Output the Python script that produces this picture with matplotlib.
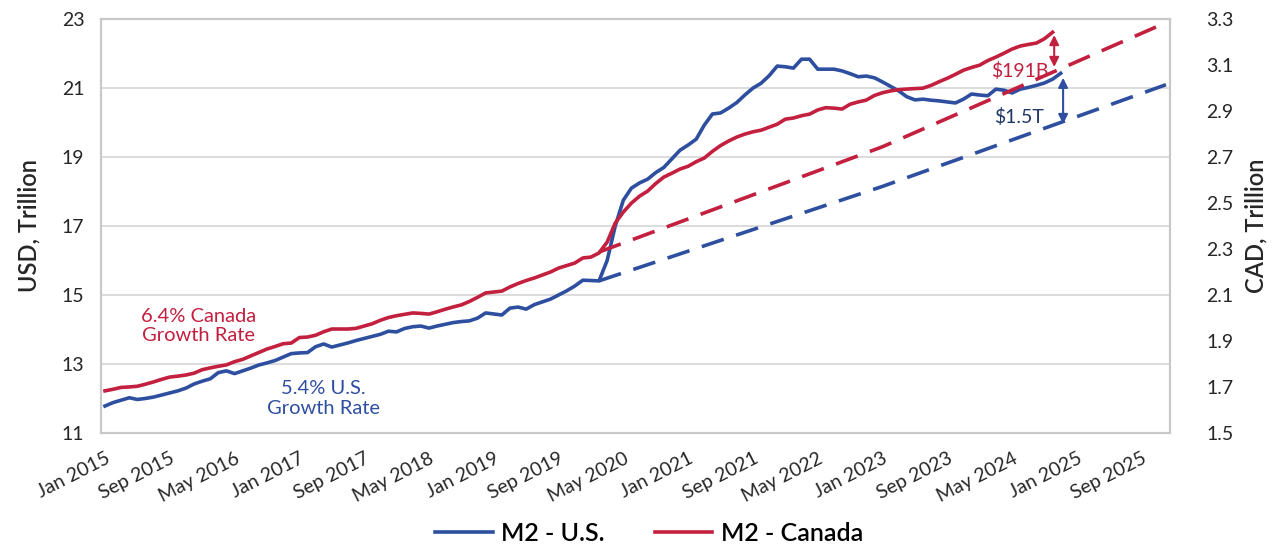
import numpy as np
import matplotlib
matplotlib.use('Agg')
import matplotlib.pyplot as plt
from matplotlib.ticker import FixedLocator, FormatStrFormatter

plt.rcParams['font.family'] = ['Lato', 'DejaVu Sans']

# monthly M2, Jan 2015 onwards
us_m2 = [
    11.78, 11.88, 11.95, 12.02, 11.97, 12.00, 12.04, 12.10, 12.16, 12.22, 12.30, 12.42,
    12.50, 12.57, 12.75, 12.80, 12.72, 12.80, 12.88, 12.97, 13.03, 13.10, 13.20, 13.30,
    13.32, 13.33, 13.50, 13.58, 13.49, 13.55, 13.61, 13.68, 13.74, 13.80, 13.86, 13.95,
    13.93, 14.03, 14.08, 14.10, 14.04, 14.10, 14.15, 14.20, 14.23, 14.25, 14.33, 14.48,
    14.45, 14.42, 14.62, 14.65, 14.59, 14.72, 14.80, 14.88, 15.00, 15.12, 15.26, 15.43,
    15.42, 15.41, 16.00, 17.00, 17.75, 18.10, 18.25, 18.36, 18.55, 18.70, 18.95, 19.20,
    19.35, 19.52, 19.93, 20.25, 20.28, 20.42, 20.58, 20.80, 21.00, 21.14, 21.36, 21.64,
    21.62, 21.58, 21.84, 21.84, 21.55, 21.55, 21.55, 21.50, 21.42, 21.33, 21.35, 21.30,
    21.18, 21.05, 20.92, 20.75, 20.66, 20.68, 20.65, 20.63, 20.60, 20.57, 20.68, 20.83,
    20.80, 20.78, 20.97, 20.94, 20.86, 20.97, 21.02, 21.08, 21.15, 21.26, 21.43,
]
ca_m2 = [
    1.683, 1.690, 1.698, 1.700, 1.703, 1.712, 1.722, 1.733, 1.743, 1.747, 1.752, 1.760,
    1.775, 1.783, 1.790, 1.796, 1.810, 1.820, 1.835, 1.850, 1.865, 1.876, 1.888, 1.891,
    1.915, 1.917, 1.925, 1.940, 1.952, 1.952, 1.952, 1.955, 1.965, 1.975, 1.990, 2.002,
    2.010, 2.016, 2.022, 2.020, 2.017, 2.027, 2.038, 2.048, 2.057, 2.072, 2.090, 2.109,
    2.113, 2.117, 2.135, 2.150, 2.163, 2.174, 2.187, 2.200, 2.217, 2.228, 2.239, 2.261,
    2.265, 2.283, 2.330, 2.413, 2.461, 2.500, 2.530, 2.552, 2.585, 2.613, 2.630, 2.648,
    2.660, 2.680, 2.696, 2.725, 2.750, 2.770, 2.787, 2.800, 2.810, 2.817, 2.830, 2.843,
    2.865, 2.870, 2.880, 2.887, 2.905, 2.915, 2.913, 2.909, 2.930, 2.940, 2.948, 2.968,
    2.980, 2.988, 2.993, 2.996, 2.998, 3.000, 3.012, 3.028, 3.043, 3.060, 3.078, 3.090,
    3.100, 3.120, 3.135, 3.152, 3.170, 3.183, 3.190, 3.196, 3.215, 3.243,
]

# trend lines (month index, value)
us_trend_month = [61, 96, 131]
us_trend = [15.41, 18.15, 21.10]
ca_trend_month = [61, 96, 131]
ca_trend = [2.287, 2.745, 3.285]

n_months = 132
tick_labels = ['Jan 2015', 'Sep 2015', 'May 2016', 'Jan 2017', 'Sep 2017', 'May 2018',
               'Jan 2019', 'Sep 2019', 'May 2020', 'Jan 2021', 'Sep 2021', 'May 2022',
               'Jan 2023', 'Sep 2023', 'May 2024', 'Jan 2025', 'Sep 2025']

blue = '#2E4FA0'
red = '#C31F3E'
navy = '#1F3864'
txt = '#262626'

fig = plt.figure(figsize=(12.73, 5.48), dpi=100)
ax1 = fig.add_axes([0.0793, 0.210, 0.8398, 0.755])
ax2 = ax1.twinx()

ax1.plot(np.arange(len(us_m2)), us_m2, color=blue, lw=2.6, label='M2 - U.S.', zorder=3)
ax1.plot(us_trend_month, us_trend, color=blue, lw=2.6, dashes=(6.4, 3.6), zorder=3)
ax2.plot(np.arange(len(ca_m2)), ca_m2, color=red, lw=2.6, label='M2 - Canada', zorder=3)
ax2.plot(ca_trend_month, ca_trend, color=red, lw=2.6, dashes=(6.4, 3.6), zorder=3)

ax1.set_xlim(-0.5, n_months - 0.5)
ax1.set_ylim(11, 23)
ax2.set_ylim(1.5, 3.3)
ax1.yaxis.set_major_locator(FixedLocator(np.arange(11, 24, 2)))
ax2.yaxis.set_major_locator(FixedLocator(np.arange(1.5, 3.31, 0.2)))
ax2.yaxis.set_major_formatter(FormatStrFormatter('%.1f'))

ax1.set_xticks(np.arange(0, n_months, 8))
ax1.set_xticklabels(tick_labels, rotation=27, ha='right', rotation_mode='anchor')

ax1.grid(axis='y', color='#D9D9D9', lw=1.3)
ax1.set_axisbelow(True)
for ax in (ax1, ax2):
    for s in ax.spines.values():
        s.set_color('#C8C8C8')
        s.set_linewidth(1.5)
ax1.tick_params(axis='y', length=0, labelsize=14, colors=txt, pad=12)
ax1.tick_params(axis='x', length=0, labelsize=14, colors=txt, pad=12)
ax2.tick_params(axis='y', length=0, labelsize=14, colors=txt, pad=26)

ax1.set_ylabel('USD, Trillion', fontsize=17, color=txt, fontweight='semibold', labelpad=15)
ax2.set_ylabel('CAD, Trillion', fontsize=17, color=txt, fontweight='semibold', labelpad=8)

# annotations
ax2.text(11.5, 1.965, '6.4% Canada\nGrowth Rate', color=red, fontsize=14.5,
         ha='center', va='center', linespacing=1.15)
ax1.text(27, 12.0, '5.4% U.S.\nGrowth Rate', color=blue, fontsize=14.5,
         ha='center', va='center', linespacing=1.25)
ax2.text(113.0, 3.075, '$191B', color=red, fontsize=14, ha='center', va='center')
ax1.text(112.8, 20.15, '$1.5T', color=navy, fontsize=14, ha='center', va='center')
ax2.annotate('', xy=(117.2, ca_m2[-1]), xytext=(117.2, 3.08),
             arrowprops=dict(arrowstyle='<|-|>', color=red, lw=1.5, mutation_scale=14))
ax1.annotate('', xy=(118.3, us_m2[-1] - 0.05), xytext=(118.3, 19.88),
             arrowprops=dict(arrowstyle='<|-|>', color=blue, lw=1.5, mutation_scale=14))

h1, l1 = ax1.get_legend_handles_labels()
h2, l2 = ax2.get_legend_handles_labels()
fig.legend(h1 + h2, l1 + l2, loc='lower center', bbox_to_anchor=(0.51, -0.035), ncol=2,
           frameon=False, handlelength=2.3, handletextpad=0.35, columnspacing=2.0,
           prop={'weight': 'semibold', 'size': 18})

fig.savefig('out.png', dpi=100)
